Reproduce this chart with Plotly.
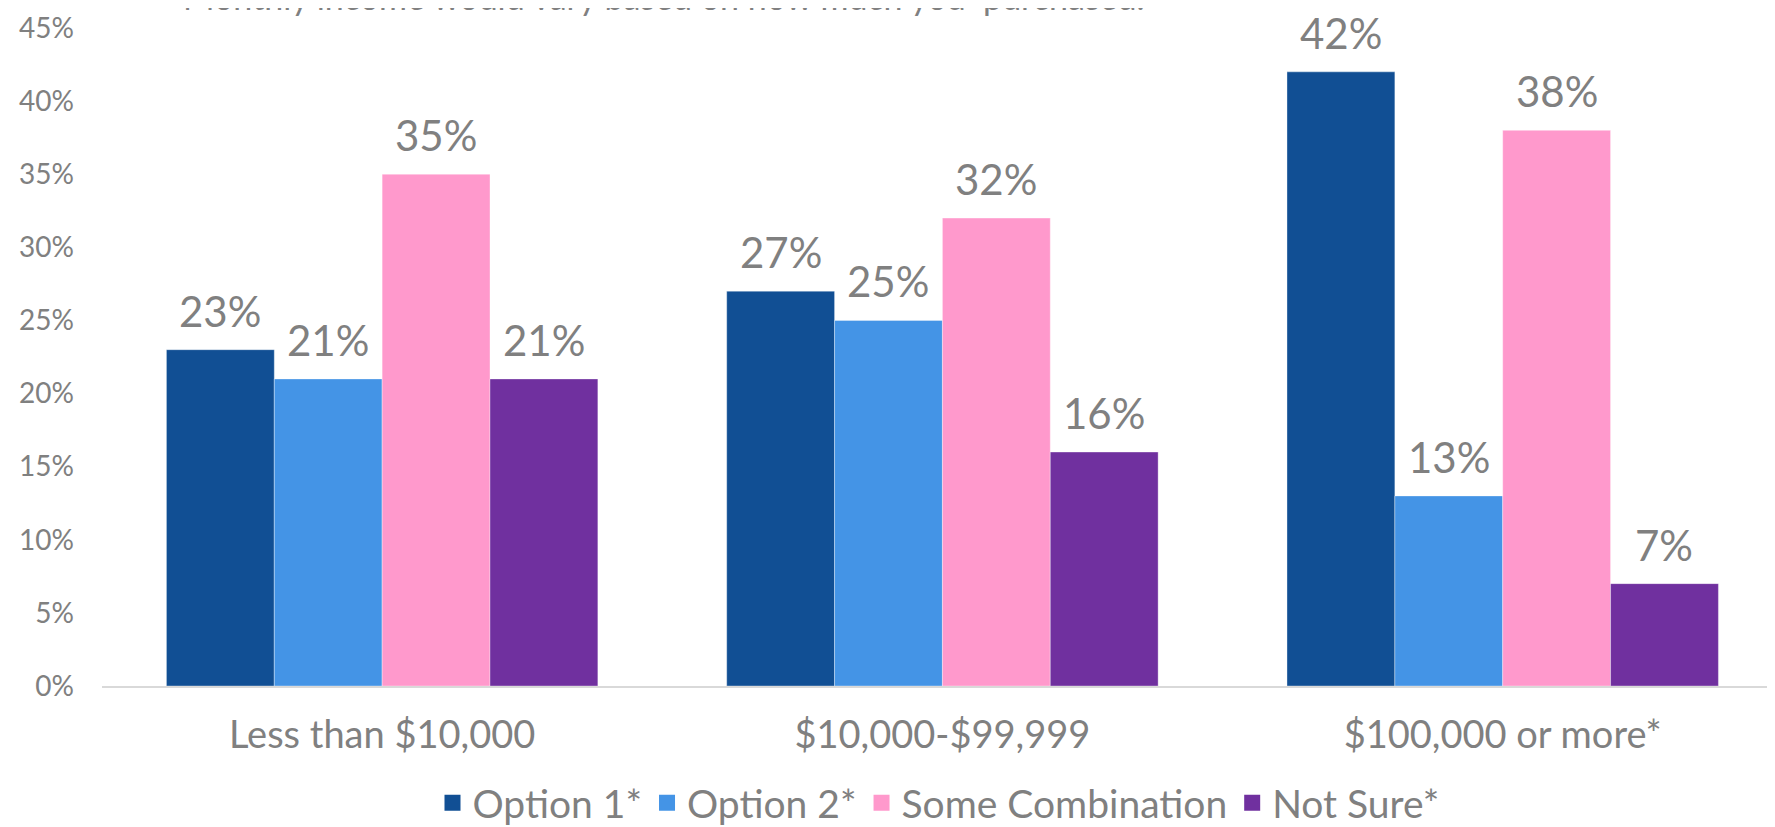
import plotly.graph_objects as go

categories = ["Less than $10,000", "$10,000-$99,999", "$100,000 or more*"]
series_names = ["Option 1*", "Option 2*", "Some Combination", "Not Sure*"]
option1 = [0.23, 0.27, 0.42]
option2 = [0.21, 0.25, 0.13]
some_combination = [0.35, 0.32, 0.38]
not_sure = [0.21, 0.16, 0.07]
colors = ["#114F94", "#4494E6", "#FF99CC", "#70309F"]
subtitle = "Monthly income would vary based on how much you  purchased."

FONT = "Lato, Open Sans, sans-serif"
GRAY = "#808080"

# page body has an 8px default margin, so the figure is drawn 8px in
W, H = 1767, 819
ML, MR, MT, MB = 94, 0, 20, 141
BARGAP = 0.23
XR = [-0.5, 2.486]

fig = go.Figure()
all_series = [option1, option2, some_combination, not_sure]
for name, vals, col in zip(series_names, all_series, colors):
    fig.add_trace(go.Bar(
        name=name, x=categories, y=vals, legendgroup=name, showlegend=False,
        marker=dict(color=col, line=dict(color="rgba(255,255,255,0.35)", width=1)),
        cliponaxis=False,
    ))
# legend entries with larger square swatches
for name, col in zip(series_names, colors):
    fig.add_trace(go.Scatter(
        name=name, x=[None], y=[None], mode="markers", legendgroup=name,
        marker=dict(symbol="square", size=16, color=col), hoverinfo="skip",
    ))

# data labels placed on top of each bar
plot_w = W - ML - MR
cat_px = plot_w / (XR[1] - XR[0])
bar_px = cat_px * (1 - BARGAP) / len(series_names)
for i, vals in enumerate(all_series):
    off = (i - (len(series_names) - 1) / 2) * bar_px
    for cat, v in zip(categories, vals):
        fig.add_annotation(x=cat, y=v, xref="x", yref="y", text=f"{round(v*100)}%",
                           showarrow=False, xshift=off, yanchor="bottom", yshift=12,
                           font=dict(size=42, color=GRAY, family=FONT))

fig.update_layout(
    width=W, height=H,
    margin=dict(l=ML, r=MR, t=MT, b=MB, autoexpand=False),
    barmode="group", bargap=BARGAP, bargroupgap=0,
    plot_bgcolor="white", paper_bgcolor="white",
    font=dict(family=FONT, color=GRAY),
    showlegend=True,
    legend=dict(orientation="h", x=0.5, xanchor="center", yref="container",
                y=(H - 795) / H, yanchor="middle",
                font=dict(size=39, color=GRAY, family=FONT), itemwidth=30,
                traceorder="normal"),
)
fig.update_yaxes(range=[0, 0.45], dtick=0.05, tickformat=".0%", showgrid=False,
                 zeroline=False, showline=False, automargin=False,
                 tickfont=dict(size=28, color=GRAY, family=FONT), ticklabelstandoff=27)
fig.update_xaxes(range=XR, showline=True, linecolor="#D9D9D9", linewidth=2, showgrid=False,
                 automargin=False,
                 tickfont=dict(size=38, color=GRAY, family=FONT), ticklabelstandoff=14)
fig.add_annotation(text=subtitle, xref="paper", yref="paper", x=0.047, xanchor="left",
                   y=1.0, yshift=MT - 11, yanchor="bottom", showarrow=False,
                   font=dict(size=34, color=GRAY, family=FONT))

fig.write_html("out.html")
